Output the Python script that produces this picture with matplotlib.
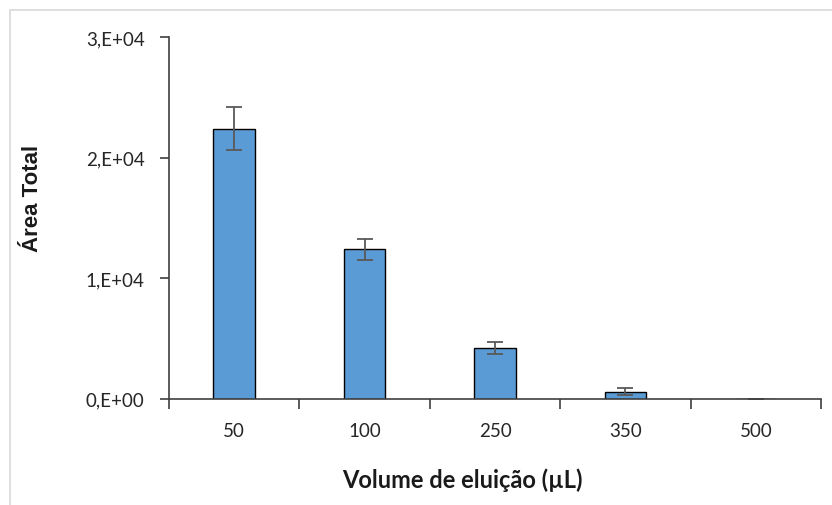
import matplotlib.pyplot as plt
from matplotlib.patches import Rectangle
from matplotlib.ticker import FuncFormatter

volumes = ['50', '100', '250', '350', '500']
area = [22400, 12400, 4220, 560, 0]
erro = [1750, 870, 500, 290, 0]

plt.rcParams['font.family'] = ['Lato', 'DejaVu Sans']

W, H = 832, 506
fig = plt.figure(figsize=(W / 100, H / 100), dpi=100, facecolor='white')
# moldura cinza clara
fig.patches.append(Rectangle((10 / W, -0.1), 1.2, 1 - 11 / H + 0.1, transform=fig.transFigure,
                             fill=False, edgecolor='#d9d9d9', linewidth=1.2))

ax = fig.add_axes([169 / W, 1 - 399.5 / H, (821 - 169) / W, (399.5 - 38) / H])
pos = range(len(volumes))
ax.bar(pos, area, width=0.32, color='#5b9bd5', edgecolor='black', linewidth=1.0,
       yerr=erro, error_kw=dict(ecolor='#595959', elinewidth=1.3, capsize=5.5, capthick=1.3))

ax.set_xlim(-0.5, len(volumes) - 0.5)
ax.set_ylim(0, 30000)
ax.set_yticks([0, 10000, 20000, 30000])
ax.yaxis.set_major_formatter(FuncFormatter(lambda v, p: '%d,E+04' % (v // 10000) if v else '0,E+00'))

ax.set_xticks([i - 0.5 for i in range(len(volumes) + 1)])
ax.set_xticklabels([])
ax.set_xticks(list(pos), minor=True)
ax.set_xticklabels(volumes, minor=True)
ax.tick_params(axis='x', which='major', direction='out', length=7, width=1.2, color='#404040')
ax.tick_params(axis='x', which='minor', length=0, pad=17, labelsize=13.5, labelcolor='#262626')
ax.tick_params(axis='y', direction='out', length=6.5, width=1.2, color='#404040', pad=11,
               labelsize=13.5, labelcolor='#262626')

for s in ['top', 'right']:
    ax.spines[s].set_visible(False)
for s in ['left', 'bottom']:
    ax.spines[s].set_color('#404040')
    ax.spines[s].set_linewidth(1.2)
    ax.spines[s].set_zorder(3)

fig.text(462 / W, 1 - 480 / H, 'Volume de eluição (µL)', fontsize=17, fontweight='bold',
         color='#1a1a1a', ha='center', va='center')
fig.text(33 / W, 1 - 198 / H, 'Área Total', fontsize=16, fontweight='bold', rotation=90,
         family=['Liberation Sans', 'DejaVu Sans'], color='#1a1a1a', ha='center', va='center')

fig.savefig('out.png', dpi=100, facecolor='white')
